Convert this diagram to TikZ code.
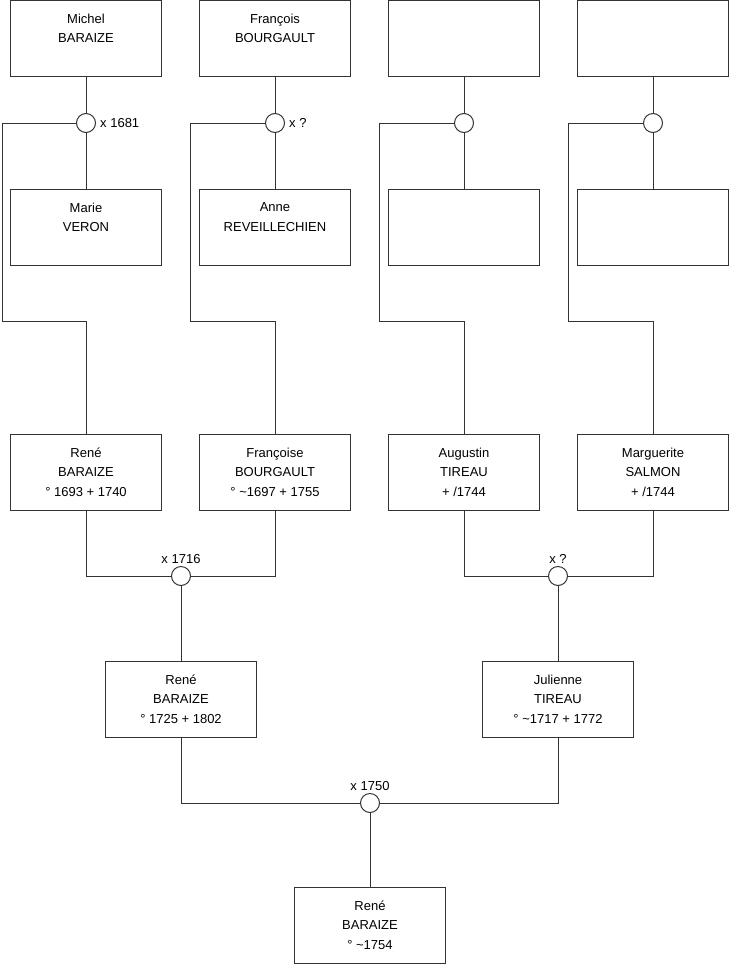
\documentclass[tikz,border=0pt]{standalone}
\usepackage{fontspec}
\setmainfont{Liberation Sans}
\usetikzlibrary{positioning}

\begin{document}
\begin{tikzpicture}[x=1pt,y=-1pt,
        personne/.style={draw=black!80, line width=1pt, minimum width=151pt, minimum height=76pt, align=center, inner sep=0pt, font=\fontsize{13}{19.5}\selectfont},
        mariage/.style={draw=black!80, line width=1pt, circle, minimum size=19pt, inner sep=0pt, fill=white},
        lien/.style={draw=black!80, line width=1pt},
        date/.style={font=\fontsize{13}{15}\selectfont, inner sep=1pt}]
        \useasboundingbox (0,0) rectangle (740,975);

        % Ligne 1
        \node[personne] (p1) at (86,38) {Michel\\BARAIZE\\\mbox{}};
        \node[personne] (p2) at (275,38) {François\\BOURGAULT\\\mbox{}};
        \node[personne] (p3) at (464,38) {};
        \node[personne] (p4) at (653,38) {};

        % Ligne 2
        \node[personne] (e1) at (86,227) {Marie\\VERON\\\mbox{}};
        \node[personne] (e2) at (275,227) {Anne\\REVEILLECHIEN\\\mbox{}};
        \node[personne] (e3) at (464,227) {};
        \node[personne] (e4) at (653,227) {};

        % Mariages du haut
        \node[mariage] (m1) at (86,123) {};
        \node[mariage] (m2) at (275,123) {};
        \node[mariage] (m3) at (464,123) {};
        \node[mariage] (m4) at (653,123) {};
        \node[date, right=3pt of m1] (d1) {x 1681};
        \node[date, right=3pt of m2] (d2) {x ?};

        % Ligne 3
        \node[personne] (r1) at (86,472) {René\\BARAIZE\\° 1693 + 1740};
        \node[personne] (r2) at (275,472) {Françoise\\BOURGAULT\\° \textasciitilde1697 + 1755};
        \node[personne] (r3) at (464,472) {Augustin\\TIREAU\\+ /1744};
        \node[personne] (r4) at (653,472) {Marguerite\\SALMON\\+ /1744};

        % Ligne 4
        \node[mariage] (m5) at (181,576) {};
        \node[mariage] (m6) at (558,576) {};
        \node[date, above=1pt of m5] (d5) {x 1716};
        \node[date, above=1pt of m6] (d6) {x ?};
        \node[personne] (g1) at (181,699) {René\\BARAIZE\\° 1725 + 1802};
        \node[personne] (g2) at (558,699) {Julienne\\TIREAU\\° \textasciitilde1717 + 1772};

        % Dernier couple
        \node[mariage] (m7) at (370,803) {};
        \node[date, above=1pt of m7] (d7) {x 1750};
        \node[personne] (b1) at (370,925) {René\\BARAIZE\\° \textasciitilde1754};

        % Coins des branches
        \coordinate (k1) at (2,123);   \coordinate (h1) at (2,321);
        \coordinate (k2) at (190,123); \coordinate (h2) at (190,321);
        \coordinate (k3) at (379,123); \coordinate (h3) at (379,321);
        \coordinate (k4) at (568,123); \coordinate (h4) at (568,321);

        % Liens
        \draw[lien] (p1) -- (m1) -- (e1);
        \draw[lien] (p2) -- (m2) -- (e2);
        \draw[lien] (p3) -- (m3) -- (e3);
        \draw[lien] (p4) -- (m4) -- (e4);
        \draw[lien] (m1) -- (k1) -- (h1) -| (r1);
        \draw[lien] (m2) -- (k2) -- (h2) -| (r2);
        \draw[lien] (m3) -- (k3) -- (h3) -| (r3);
        \draw[lien] (m4) -- (k4) -- (h4) -| (r4);
        \draw[lien] (r1) |- (m5) -| (r2);
        \draw[lien] (r3) |- (m6) -| (r4);
        \draw[lien] (m5) -- (g1);
        \draw[lien] (m6) -- (g2);
        \draw[lien] (g1) |- (m7) -| (g2);
        \draw[lien] (m7) -- (b1);
    \end{tikzpicture}
\end{document}
